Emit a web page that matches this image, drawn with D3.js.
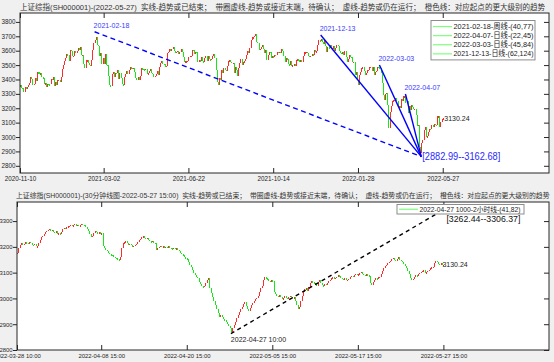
<!DOCTYPE html>
<html lang="zh">
<head>
	<meta charset="utf-8" />
	<title>上证综指 SH000001</title>
	<script src="https://cdn.jsdelivr.net/npm/d3@7"></script>
	<style>
		* {margin: 0; padding: 0;}
		body {background: #f0f0f0; overflow: hidden;}
		svg {display: block; font-family: "Liberation Sans", Arial, "Noto Sans CJK SC", sans-serif;}
	</style>
</head>
<body>
<div id="viz"></div>
<script>

// ---- daily bars, 2020-11-10 .. 2022-05-27 (bar index = trading day) ----
var dayClose = [
 3360,3342,3338,3310,3346,3339,3347,3363,3377,3414,3402,3362,3369,3408,3391,
 3451,3449,3442,3444,3416,3410,3371,3373,3347,3369,3367,3366,3404,3394,3420,3356,3382,3363,3396,3397,3379,3414,3473,
 3502,3528,3550,3576,3570,3531,3608,3598,3566,3566,3596,3583,3595,3621,3606,3624,3569,3573,3506,3483,
 3533,3533,3517,3502,3496,3532,3603,3655,3675,3696,3642,3636,3564,3585,3509,
 3551,3508,3576,3503,3502,3421,3360,3357,3436,3454,3419,3446,3445,3463,3405,3443,3411,3367,3363,3418,3435,3457,3441,
 3466,3484,3482,3479,3482,3451,3412,3396,3416,3399,3426,3477,3473,3472,3465,3474,3441,3442,3457,3474,3447,
 3441,3418,3427,3441,3462,3430,3490,3517,3529,3510,3507,3487,3497,3581,3593,3609,3600,3615,
 3624,3597,3584,3591,3599,3580,3591,3610,3589,3556,3518,3525,3525,3529,3557,3566,3566,3607,3606,3574,3591,
 3588,3519,3534,3530,3553,3525,3524,3548,3566,3528,3564,3539,3536,3543,3562,3574,3550,3467,3382,3361,3412,3397,
 3465,3447,3477,3466,3458,3494,3529,3532,3524,3517,3517,3446,3485,3465,3427,3477,3514,3540,3501,3522,3528,3543,
 3567,3597,3581,3621,3676,3693,3693,3703,3715,3662,3656,3607,3613,3628,3642,3613,3582,3602,3537,3568,
 3592,3591,3547,3561,3558,3572,3568,3593,3587,3594,3582,3609,3597,3562,3518,3547,
 3545,3505,3498,3526,3491,3498,3507,3492,3532,3539,3533,3521,3537,3520,3560,3589,3590,3592,3584,3564,3562,3564,
 3576,3573,3607,3589,3595,3637,3673,3666,3681,3661,3647,3675,3632,3593,3625,3622,3643,3618,3615,3630,3597,3620,3640,
 3632,3595,3586,3580,3593,3567,3597,3555,3521,3542,3569,3558,3555,3522,3524,3434,3455,3394,3361,
 3429,3452,3479,3485,3462,3429,3446,3465,3468,3490,3490,3457,3489,3429,3451,3462,
 3488,3484,3481,3447,3373,3293,3256,3296,3309,3223,3064,3171,3215,3251,3254,3259,3272,3251,3212,3215,3203,3267,3252,
 3283,3284,3237,3252,3167,3214,3187,3226,3211,3195,3195,3151,3080,3087,2929,2886,2959,2976,3047,
 3067,3001,3004,3035,3058,3054,3084,3073,3093,3086,3085,3146,3146,3070,3107,3123,3130.24
];
var dayTickIdx = [0, 74, 149, 224, 299, 374];
var dayTickLabels = ["2020-11-10", "2021-03-02", "2021-06-22", "2021-10-14", "2022-01-28", "2022-05-27"];
var dayYTicks = [2800, 2900, 3000, 3100, 3200, 3300, 3400, 3500, 3600, 3700, 3800];

// trend lines: start high -> common low (2022-04-27)
var trendDates = ["2021-02-18", "2021-12-13", "2022-03-03", "2022-04-07"];
var trendIdx = [66, 266, 318, 341];
var trendHigh = [3731.69, 3708.94, 3501, 3299];
var trendRunning = [true, false, false, false];   // dashed = still running
var trendLowIdx = 355;
var trendLow = 2863.65;
var dayRangeText = "[2882.99--3162.68]";
var dayLegend = ["2021-02-18-周线-(40,77)", "2022-04-07-日线-(22,45)", "2022-03-03-日线-(45,84)", "2021-12-13-日线-(62,124)"];

// ---- 30 minute bars, 2022-03-28 10:00 .. 2022-05-27 15:00 (8 bars a day) ----
var minClose = [
 3178,3196,3208,3214,3206,3212,3218,3215, 3212,3220,3214,3209,3206,3212,3202,3203,
 3215,3226,3238,3244,3249,3256,3262,3267, 3270,3262,3266,3258,3255,3260,3250,3252,
 3248,3258,3268,3275,3270,3278,3280,3282, 3286,3279,3283,3290,3282,3286,3280,3284,
 3290,3286,3284,3278,3270,3262,3250,3237, 3244,3255,3262,3258,3250,3256,3248,3252,
 3205,3196,3188,3183,3178,3172,3170,3167, 3162,3158,3155,3152,3149,3160,3195,3214,
 3218,3222,3214,3210,3212,3206,3200,3204, 3208,3212,3220,3226,3232,3238,3242,3236,
 3230,3236,3228,3222,3218,3224,3216,3214, 3186,3196,3200,3204,3198,3202,3197,3200,
 3198,3202,3196,3194,3190,3196,3192,3195, 3188,3184,3178,3172,3168,3160,3155,3151,
 3140,3128,3120,3110,3100,3092,3085,3080, 3062,3055,3048,3044,3050,3058,3070,3078,
 3040,3020,3005,2990,2975,2960,2945,2929, 2935,2928,2920,2915,2908,2900,2892,2886,
 2870,2885,2898,2910,2925,2935,2948,2959, 2965,2978,2985,2970,2958,2952,2962,2976,
 2982,2990,2996,3002,3010,3025,3040,3047, 3070,3082,3078,3074,3068,3062,3070,3067,
 3025,3018,3010,3006,3012,3004,2998,3001, 3008,3002,2996,3004,3010,3006,3000,3004,
 2990,2975,2960,2968,2990,3010,3025,3035, 3040,3030,3045,3058,3066,3062,3055,3058,
 3050,3062,3070,3060,3052,3048,3056,3054, 3058,3066,3072,3078,3082,3076,3080,3084,
 3090,3086,3080,3076,3072,3078,3070,3073, 3076,3082,3088,3084,3090,3096,3091,3093,
 3098,3104,3096,3092,3088,3094,3090,3086, 3060,3052,3064,3072,3078,3074,3082,3085,
 3096,3108,3118,3124,3130,3138,3142,3146, 3152,3158,3150,3146,3154,3160,3150,3146,
 3140,3132,3126,3118,3106,3094,3080,3070, 3076,3084,3090,3086,3094,3100,3104,3107,
 3110,3098,3102,3108,3112,3118,3120,3123, 3138,3146,3140,3134,3130,3136,3128,3130.24
];
var minTickIdx = [0, 63, 127, 191, 255, 319];
var minTickLabels = ["2022-03-28 10:00", "2022-04-08 15:00", "2022-04-20 15:00", "2022-05-05 15:00", "2022-05-17 15:00", "2022-05-27 15:00"];
var minYTicks = [2800, 2900, 3000, 3100, 3200, 3300];
var minTrendIdx = [160, 319];
var minTrendVal = [2863.65, 3343];
var minLowText = "2022-04-27 10:00";
var minRangeText = "[3262.44--3306.37]";
var minLegend = ["2022-04-27 1000-2小时线-(41,82)"];

var titleRest = "  实线-趋势或已结束；  带圈虚线-趋势或接近末端，待确认；  虚线-趋势或仍在运行；  橙色线：对应起点的更大级别的趋势";
var title1 = "上证综指(SH000001)-(2022-05-27)" + titleRest;
var title2 = "上证综指(SH000001)-(30分钟线图-2022-05-27 15:00)" + titleRest;

var UP = "#ff2a2a", DOWN = "#19e619", AXC = "#262626";

var svg = d3.select("#viz").append("svg").attr("width", 554).attr("height", 362);

// draws one axes box with its candles, returns the scales
function panel(o) {
	var x = d3.scaleLinear().domain(o.xDomain).range([o.left, o.right]);
	var y = d3.scaleLinear().domain(o.yDomain).range([o.bottom, o.top]);
	var g = svg.append("g");

	g.append("rect")
		.attr("x", o.left).attr("y", o.top)
		.attr("width", o.right - o.left).attr("height", o.bottom - o.top)
		.style("fill", "#fff");

	g.append("g").style("shape-rendering", "crispEdges")
		.selectAll("rect")
		.data(o.close)
		.enter()
		.append("rect")
		.attr("x", function(d, i){ return Math.round(x(i)) - 0.5; })
		.attr("width", 1.4)
		.attr("y", function(d, i){
			var op = i ? o.close[i - 1] : d;
			return y(Math.max(op, d)); })
		.attr("height", function(d, i){
			var op = i ? o.close[i - 1] : d;
			return Math.max(1.5, Math.abs(y(op) - y(d))); })
		.style("fill", function(d, i){
			var op = i ? o.close[i - 1] : d;
			return d >= op ? UP : DOWN; });

	var ax = g.append("g");
	ax.append("g").attr("transform", "translate(" + o.left + ",0)")
		.call(d3.axisLeft(y).tickValues(o.yTicks).tickSize(4).tickPadding(0.5).tickFormat(d3.format("d")));
	ax.append("g").attr("transform", "translate(" + o.right + ",0)")
		.call(d3.axisRight(y).tickValues(o.yTicks).tickSize(-5).tickFormat(""));
	ax.append("g").attr("transform", "translate(0," + o.bottom + ")")
		.call(d3.axisBottom(x).tickValues(o.xTicks).tickSize(-5).tickPadding(3.5)
			.tickFormat(function(d, i){ return o.xLabels[i]; }));
	ax.append("g").attr("transform", "translate(0," + o.top + ")")
		.call(d3.axisTop(x).tickValues(o.xTicks).tickSize(-5).tickFormat(""));
	ax.selectAll(".domain").remove();
	ax.selectAll("line").style("stroke", AXC);
	ax.selectAll("text").style("font-size", o.tickFont).style("fill", AXC)
		.style("font-family", "'Liberation Sans', Arial, sans-serif");

	g.append("rect")
		.attr("x", o.left).attr("y", o.top)
		.attr("width", o.right - o.left).attr("height", o.bottom - o.top)
		.style("fill", "none").style("stroke", AXC).style("stroke-width", 1);

	// title: size the font so the line fills the wanted width
	var t = svg.append("text")
		.attr("x", o.titleX).attr("y", o.titleY)
		.style("white-space", "pre").style("font-size", "8px").style("fill", "#333")
		.text(o.title);
	var w = t.node().getComputedTextLength();
	if (w > 0) t.style("font-size", (8 * o.titleW / w).toFixed(2) + "px");

	return {x: x, y: y, g: g};
}

function legend(g, items, bx, by, bw, rowH, tw, fs) {
	g.append("rect")
		.attr("x", bx).attr("y", by)
		.attr("width", bw).attr("height", rowH * items.length + 3)
		.style("fill", "#fff").style("stroke", "#8c8c8c").style("stroke-width", 1);
	items.forEach(function(t, k){
		var cy = by + 1.5 + rowH * (k + 0.5);
		g.append("line")
			.attr("x1", bx + 2).attr("x2", bx + 21)
			.attr("y1", cy).attr("y2", cy)
			.style("stroke", "#7dff7d").style("stroke-width", 1.2);
		g.append("text")
			.attr("x", bx + 22.5).attr("y", cy + fs * 0.35)
			.attr("textLength", tw).attr("lengthAdjust", "spacingAndGlyphs")
			.style("font-size", fs + "px").style("fill", "#222")
			.text(t);
	});
}

// ---- top: daily ----
var p1 = panel({
	left: 20, right: 549, top: 13, bottom: 173,
	xDomain: [0, 468], yDomain: [2750, 3862],
	close: dayClose, yTicks: dayYTicks, xTicks: dayTickIdx, xLabels: dayTickLabels,
	tickFont: "6.3px",
	title: title1, titleX: 20, titleY: 10, titleW: 526
});

var lowX = p1.x(trendLowIdx), lowY = p1.y(trendLow);
trendIdx.forEach(function(ti, k){
	p1.g.append("line")
		.attr("x1", p1.x(ti)).attr("y1", p1.y(trendHigh[k]))
		.attr("x2", lowX).attr("y2", lowY)
		.style("stroke", "#0000ff").style("stroke-width", 1.4)
		.style("stroke-dasharray", trendRunning[k] ? "5,3.5" : null);
	p1.g.append("text")
		.attr("x", p1.x(ti) - 1).attr("y", p1.y(trendHigh[k]) - 4)
		.style("font-size", "7px").style("fill", "#3a3aff")
		.text(trendDates[k]);
});
p1.g.append("text")
	.attr("x", lowX + 1).attr("y", lowY + 3)
	.attr("textLength", 78).attr("lengthAdjust", "spacingAndGlyphs")
	.style("font-size", "10px").style("fill", "#2a2aff")
	.text(dayRangeText);
var lastD = dayClose.length - 1;
p1.g.append("text")
	.attr("x", p1.x(lastD) + 1.5).attr("y", p1.y(dayClose[lastD]) + 2.5)
	.style("font-size", "7px").style("fill", "#222")
	.text(dayClose[lastD].toFixed(2));
legend(p1.g, dayLegend, 431, 20.5, 104, 9.1, 80, 7.5);

// ---- bottom: 30 minute ----
var p2 = panel({
	left: 17, right: 549, top: 202, bottom: 350,
	xDomain: [0, 398], yDomain: [2800, 3374],
	close: minClose, yTicks: minYTicks, xTicks: minTickIdx, xLabels: minTickLabels,
	tickFont: "5.9px",
	title: title2, titleX: 16, titleY: 198, titleW: 534
});

var ax0 = p2.x(minTrendIdx[0]), ay0 = p2.y(minTrendVal[0]);
var ax1 = p2.x(minTrendIdx[1]), ay1 = p2.y(minTrendVal[1]);
p2.g.append("line")
	.attr("x1", ax0).attr("y1", ay0).attr("x2", ax1).attr("y2", ay1)
	.style("stroke", "#000").style("stroke-width", 1.4)
	.style("stroke-dasharray", "4,3.5");
p2.g.append("text")
	.attr("x", ax0).attr("y", ay0 + 8.5)
	.style("font-size", "7px").style("fill", "#222")
	.text(minLowText);
legend(p2.g, minLegend, 397, 204.5, 127, 6.5, 101, 7);
p2.g.append("text")
	.attr("x", ax1 + 3).attr("y", ay1 + 12.5)
	.attr("textLength", 74).attr("lengthAdjust", "spacingAndGlyphs")
	.style("font-size", "9.5px").style("fill", "#111")
	.text(minRangeText);
var lastM = minClose.length - 1;
p2.g.append("text")
	.attr("x", p2.x(lastM) - 1).attr("y", p2.y(minClose[lastM]) + 2.5)
	.style("font-size", "7px").style("fill", "#222")
	.text(minClose[lastM].toFixed(2));

</script>
</body>
</html>
